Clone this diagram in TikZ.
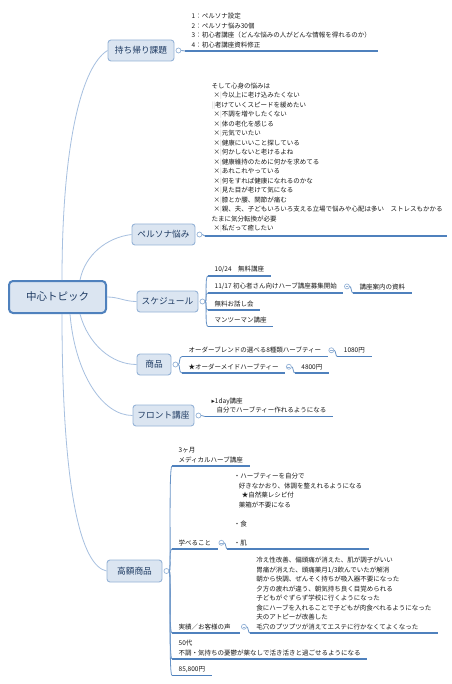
\documentclass[tikz,border=0pt]{standalone}
\usepackage{fontspec}
\setmainfont{Noto Sans CJK JP}
\newfontfamily\dejavu{DejaVu Sans}
\usetikzlibrary{calc}
\definecolor{mfill}{HTML}{DBE5F1}
\definecolor{mborder}{HTML}{95B3D7}
\definecolor{cborder}{HTML}{4F81BD}
\definecolor{ulcol}{HTML}{4F81BD}
\definecolor{conn}{HTML}{A7C0E0}
\definecolor{navy}{HTML}{1F3B63}
\definecolor{txt}{HTML}{1A1A1A}
\newcommand\mybar{{\color{gray!45}|}}
\newcommand\xb{\hspace*{2pt}×\mybar}
\newcommand\ind{\hspace*{5pt}}
\tikzset{
 maintopic/.style={draw=mborder, fill=mfill, rounded corners=3pt, line width=0.9pt, text=navy, font=\fontsize{8.7}{10}\selectfont, inner sep=0pt, minimum height=21pt},
 centraltopic/.style={draw=cborder, fill=mfill, rounded corners=4pt, line width=2pt, text=navy, font=\fontsize{10.5}{12}\selectfont, minimum width=97pt, minimum height=32pt},
 subtopic/.style={anchor=south west, align=left, text=txt, font=\fontsize{6.5}{9.5}\selectfont, inner xsep=6.5pt, inner ysep=3pt, append after command={(\tikzlastnode.south west) edge[draw=ulcol, line width=1.1pt] (\tikzlastnode.south east)}},
 dot/.style={circle, draw=mborder, fill=white, line width=0.7pt, inner sep=0pt, minimum size=5pt},
 subdot/.style={dot, path picture={\draw[mborder, line width=0.5pt] ([xshift=-1.4pt]path picture bounding box.center) -- ([xshift=1.4pt]path picture bounding box.center);}},
 link/.style={draw=conn, line width=0.8pt},
 branch/.style={draw=ulcol!85, line width=0.8pt},
}
\begin{document}
\begin{tikzpicture}[x=1pt,y=-1pt]
\useasboundingbox (0,0) rectangle (451,684);
\fill[white] (0,0) rectangle (451,684);
% main topics
\node[centraltopic] (c) at (57.5,297) {中心トピック};
\node[maintopic, minimum width=66pt] (m1) at (141,50.5) {持ち帰り課題};
\node[maintopic, minimum width=63pt] (m2) at (163.5,234.5) {ペルソナ悩み};
\node[maintopic, minimum width=61pt] (m3) at (167.5,301.5) {スケジュール};
\node[maintopic, minimum width=34pt] (m4) at (154,364.5) {商品};
\node[maintopic, minimum width=61pt] (m5) at (163.5,415.5) {フロント講座};
\node[maintopic, minimum width=55pt, minimum height=22pt] (m6) at (134.5,571) {高額商品};
% central connectors
\draw[link] ([xshift=4.5pt]c.north) .. controls +(0,-140) and +(-25,15) .. (m1.west);
\draw[link] ([xshift=22.5pt]c.north) .. controls +(5,-25) and +(-25,3) .. (m2.west);
\draw[link] (c.east) .. controls +(12,0) and +(-12,0) .. (m3.west);
\draw[link] ([xshift=22.5pt]c.south) .. controls +(8,30) and +(-25,0) .. (m4.west);
\draw[link] ([xshift=12.5pt]c.south) .. controls +(5,60) and +(-30,0) .. (m5.west);
\draw[link] ([xshift=4.5pt]c.south) .. controls +(0,180) and +(-25,-5) .. (m6.west);
% dots of main topics
\node[dot] (d1) at ([xshift=4pt]m1.east) {};
\node[dot] (d2) at ([xshift=4pt]m2.east) {};
\node[dot] (d3) at ([xshift=4pt]m3.east) {};
\node[dot] (d4) at ([xshift=4pt]m4.east) {};
\node[dot] (d5) at ([xshift=4pt]m5.east) {};
\node[dot] (d6) at ([xshift=4pt]m6.east) {};
% 持ち帰り課題
\node[subtopic] (k1) at (185,51) {1：ペルソナ設定\\2：ペルソナ悩み30個\\3：初心者講座（どんな悩みの人がどんな情報を得れるのか）\\4：初心者講座資料修正};
\draw[branch] (d1.east) -- (k1.south west);
% ペルソナ悩み
\node[subtopic, text width=229pt] (p1) at (205,236) {そして心身の悩みは\\
\xb 今以上に老け込みたくない\\
{\color{gray!45}||}老けていくスピードを緩めたい\\
\xb 不調を増やしたくない\\
\xb 体の老化を感じる\\
\xb 元気でいたい\\
\xb 健康にいいこと探している\\
\xb 何かしないと老けるよね\\
\xb 健康維持のために何かを求めてる\\
\xb あれこれやっている\\
\xb 何をすれば健康になれるのかな\\
\xb 見た目が老けて気になる\\
\xb 膝とか腰、関節が痛む\\
\xb 親、夫、子どもいろいろ支える立場で悩みや心配は多い　ストレスもかかる\\
たまに気分転換が必要\\
\xb 私だって癒したい};
\draw[branch] (d2.east) -- (p1.south west);
% スケジュール
\node[subtopic] (s1) at (208,276) {10/24　無料講座};
\node[subtopic] (s2) at (208,293) {11/17 初心者さん向けハーブ講座募集開始};
\node[subtopic] (s3) at (208,310) {無料お話し会};
\node[subtopic] (s4) at (208,326.5) {マンツーマン講座};
\foreach \n in {s1,s2,s3,s4}
  \draw[branch] (d3.east) .. controls +(2,0) and +(-3.5,0) .. (\n.south west);
\node[subdot] (s2d) at ([xshift=3.5pt]s2.east) {};
\node[subtopic] (s2a) at ($(s2d.east |- s2.south)+(3,0)$) {講座案内の資料};
\draw[branch] (s2d.east) .. controls +(1.5,0) and +(-1.5,0) .. (s2a.south west);
% 商品
\node[subtopic] (g1) at (182,356.5) {オーダーブレンドの選べる8種類ハーブティー};
\node[subtopic] (g2) at (182,373) {★オーダーメイドハーブティー};
\foreach \n in {g1,g2}
  \draw[branch] (d4.east) .. controls +(2,0) and +(-3.5,0) .. (\n.south west);
\node[subdot] (g1d) at ([xshift=3.5pt]g1.east) {};
\node[subtopic] (g1a) at ($(g1d.east |- g1.south)+(3,0)$) {1080円};
\node[subdot] (g2d) at ([xshift=3.5pt]g2.east) {};
\node[subtopic] (g2a) at ($(g2d.east |- g2.south)+(3,0)$) {4800円};
\draw[branch] (g1d.east) .. controls +(1.5,0) and +(-1.5,0) .. (g1a.south west);
\draw[branch] (g2d.east) .. controls +(1.5,0) and +(-1.5,0) .. (g2a.south west);
% フロント講座
\node[subtopic] (f1) at (205,416.5) {{\dejavu ▸}1day講座\\\ind 自分でハーブティー作れるようになる};
\draw[branch] (d5.east) -- (f1.south west);
% 高額商品
\node[subtopic] (h1) at (172,466) {3ヶ月\\メディカルハーブ講座};
\node[subtopic] (h2) at (172,549) {学べること};
\node[subtopic, text width=55pt] (h3) at (172,633) {実績／お客様の声};
\node[subtopic] (h4) at (172,659) {50代\\不調・気持ちの憂鬱が薬なしで活き活きと過ごせるようになる};
\node[subtopic] (h5) at (172,675.5) {85,800円};
\foreach \n in {h1,h2,h3,h4,h5}
  \draw[branch] (d6.east) .. controls +(2,0) and +(-3.5,0) .. (\n.south west);
\node[subdot] (h2d) at ([xshift=3.5pt]h2.east) {};
\node[subtopic] (h2a) at ($(h2d.east |- h2.south)+(3,0)$) {・ハーブティーを自分で\\
\ind 好きなかおり、体調を整えれるようになる\\
\hspace*{8pt}★自然薬レシピ付\\
\ind 薬箱が不要になる\\
\mbox{}\\
・食\\
\mbox{}\\
・肌};
\node[subdot] (h3d) at ([xshift=3.5pt]h3.east) {};
\node[subtopic] (h3a) at ($(h3d.east |- h3.south)+(3,0)$) {冷え性改善、偏頭痛が消えた、肌が調子がいい\\
胃痛が消えた、頭痛薬月1/3飲んでいたが解消\\
朝から快調、ぜんそく持ちが吸入器不要になった\\
夕方の疲れが違う、朝気持ち良く目覚められる\\
子どもがぐずらず学校に行くようになった\\
食にハーブを入れることで子どもが肉食べれるようになった\\
夫のアトピーが改善した\\
毛穴のプツプツが消えてエステに行かなくてよくなった};
\draw[branch] (h2d.east) .. controls +(1.5,0) and +(-1.5,0) .. (h2a.south west);
\draw[branch] (h3d.east) .. controls +(1.5,0) and +(-1.5,0) .. (h3a.south west);
\end{tikzpicture}
\end{document}
